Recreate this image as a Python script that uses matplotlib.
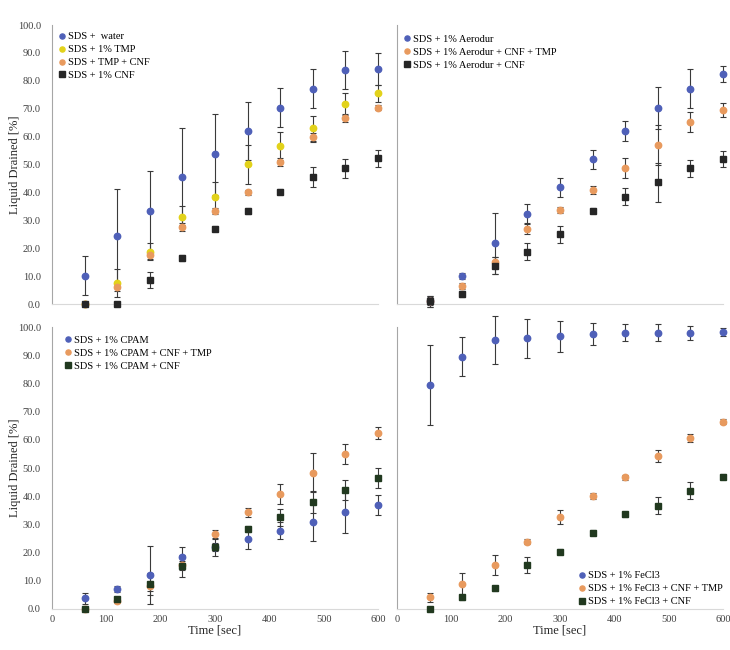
import matplotlib
matplotlib.use("Agg")
import matplotlib.pyplot as plt
import numpy as np
from matplotlib.ticker import FormatStrFormatter

plt.rcParams.update({"font.family": ["Liberation Serif", "DejaVu Serif"],
                     "font.size": 7.5})

t = [60, 120, 180, 240, 300, 360, 420, 480, 540, 600]

# ---- panel A: SDS + water / TMP / CNF
a_water = [10.2, 24.4, 33.4, 45.6, 53.6, 62.0, 70.4, 77.1, 83.9, 84.2]
a_water_err = [7.0, 16.7, 14.3, 17.4, 14.4, 10.5, 7.0, 7.0, 6.8, 5.7]
a_tmp = [0.0, 7.6, 18.7, 31.3, 38.5, 50.1, 56.6, 63.0, 71.6, 75.5]
a_tmp_err = [0.5, 5.0, 3.0, 4.0, 5.4, 7.0, 5.0, 4.5, 4.0, 3.0]
a_tmpcnf = [0.0, 6.2, 17.6, 27.7, 33.4, 40.0, 51.0, 59.7, 66.6, 70.4]
a_tmpcnf_err = [0.5, 1.5, 1.5, 1.5, 1.0, 1.0, 1.5, 1.5, 1.5, 1.0]
a_cnf = [0.0, 0.0, 8.6, 16.5, 27.0, 33.3, 40.3, 45.6, 48.6, 52.2]
a_cnf_err = [0.5, 0.5, 3.0, 1.0, 1.0, 1.0, 1.0, 3.5, 3.5, 3.0]

# ---- panel B: Aerodur
b_aer = [1.0, 10.0, 21.7, 32.3, 41.8, 51.8, 62.0, 70.3, 77.2, 82.4]
b_aer_err = [2.0, 1.0, 11.0, 3.5, 3.5, 3.5, 3.5, 7.5, 7.0, 3.0]
b_aer_cnf_tmp = [1.0, 6.5, 14.9, 27.0, 33.7, 40.9, 48.7, 57.0, 65.2, 69.7]
b_aer_cnf_tmp_err = [1.5, 1.0, 2.0, 2.0, 1.0, 1.5, 3.5, 7.0, 3.5, 2.5]
b_aer_cnf = [1.0, 3.5, 13.7, 18.8, 25.0, 33.5, 38.5, 43.6, 48.7, 52.0]
b_aer_cnf_err = [2.0, 1.0, 3.0, 3.0, 3.0, 1.0, 3.0, 7.0, 3.0, 3.0]

# ---- panel C: CPAM
c_cpam = [3.8, 7.0, 12.1, 18.6, 21.9, 24.9, 27.8, 31.0, 34.6, 36.9]
c_cpam_err = [2.0, 1.0, 10.3, 3.5, 3.0, 3.5, 3.0, 7.0, 7.5, 3.5]
c_cpam_cnf_tmp = [0.0, 3.0, 8.0, 15.5, 26.6, 34.3, 40.7, 48.4, 55.0, 62.5]
c_cpam_cnf_tmp_err = [0.5, 1.0, 1.5, 1.5, 1.5, 1.5, 3.5, 7.0, 3.5, 2.0]
c_cpam_cnf = [0.0, 3.4, 8.9, 15.3, 22.1, 28.4, 32.5, 37.9, 42.2, 46.4]
c_cpam_cnf_err = [0.5, 1.0, 4.0, 4.0, 1.5, 1.0, 3.0, 4.0, 3.5, 3.5]

# ---- panel D: FeCl3
d_fe = [79.5, 89.6, 95.5, 96.1, 96.9, 97.6, 98.1, 98.1, 98.1, 98.3]
d_fe_err = [14.2, 7.0, 8.5, 7.0, 5.5, 4.0, 3.0, 3.0, 2.5, 1.5]
d_fe_cnf_tmp = [4.1, 8.9, 15.6, 23.9, 32.8, 40.2, 46.7, 54.3, 60.6, 66.5]
d_fe_cnf_tmp_err = [1.5, 4.0, 3.5, 1.0, 2.5, 1.0, 1.0, 2.0, 1.5, 1.0]
d_fe_cnf = [0.0, 4.1, 7.3, 15.6, 20.4, 27.1, 33.6, 36.6, 41.9, 47.0]
d_fe_cnf_err = [0.5, 1.0, 1.0, 3.0, 1.0, 1.0, 1.0, 3.0, 3.0, 1.0]

BLUE, YELLOW, ORANGE = "#4F60B8", "#E2D21A", "#E89A5E"
BLACK, DKGREEN = "#262626", "#21391F"

panels = [
    ([(a_water, a_water_err, "SDS +  water", BLUE, "o"),
      (a_tmp, a_tmp_err, "SDS + 1% TMP", YELLOW, "o"),
      (a_tmpcnf, a_tmpcnf_err, "SDS + TMP + CNF", ORANGE, "o"),
      (a_cnf, a_cnf_err, "SDS + 1% CNF", BLACK, "s")],
     dict(loc="upper left", bbox_to_anchor=(0.02, 0.975))),
    ([(b_aer, b_aer_err, "SDS + 1% Aerodur", BLUE, "o"),
      (b_aer_cnf_tmp, b_aer_cnf_tmp_err, "SDS + 1% Aerodur + CNF + TMP", ORANGE, "o"),
      (b_aer_cnf, b_aer_cnf_err, "SDS + 1% Aerodur + CNF", BLACK, "s")],
     dict(loc="upper left", bbox_to_anchor=(0.02, 0.965))),
    ([(c_cpam, c_cpam_err, "SDS + 1% CPAM", BLUE, "o"),
      (c_cpam_cnf_tmp, c_cpam_cnf_tmp_err, "SDS + 1% CPAM + CNF + TMP", ORANGE, "o"),
      (c_cpam_cnf, c_cpam_cnf_err, "SDS + 1% CPAM + CNF", DKGREEN, "s")],
     dict(loc="upper left", bbox_to_anchor=(0.04, 0.97))),
    ([(d_fe, d_fe_err, "SDS + 1% FeCl3", BLUE, "o"),
      (d_fe_cnf_tmp, d_fe_cnf_tmp_err, "SDS + 1% FeCl3 + CNF + TMP", ORANGE, "o"),
      (d_fe_cnf, d_fe_cnf_err, "SDS + 1% FeCl3 + CNF", DKGREEN, "s")],
     dict(loc="lower right", bbox_to_anchor=(1.0, 0.01))),
]

fig = plt.figure(figsize=(7.3, 6.5), dpi=100)
rects = [(0.0712, 0.5323, 0.4466, 0.4292), (0.5438, 0.5323, 0.4466, 0.4292),
         (0.0712, 0.0631, 0.4466, 0.4334), (0.5438, 0.0631, 0.4466, 0.4334)]

for i, ((series, leg_kw), rect) in enumerate(zip(panels, rects)):
    ax = fig.add_axes(rect)
    handles = []
    for y, e, lab, c, m in series:
        cont = ax.errorbar(t, y, yerr=e, fmt=m, color=c, ms=4.6, ecolor="#3a3a3a",
                           elinewidth=0.8, capsize=2.2, capthick=0.8, label=lab,
                           clip_on=False, zorder=3)
        handles.append(cont[0])
    ax.set_xlim(0, 600); ax.set_ylim(0, 100)
    ax.set_yticks(np.arange(0, 101, 10))
    ax.yaxis.set_major_formatter(FormatStrFormatter("%.1f"))
    ax.set_xticks(np.arange(0, 601, 100))
    ax.tick_params(length=0, colors="#404040", labelsize=7.5, pad=8)
    for s in ("top", "right"):
        ax.spines[s].set_visible(False)
    ax.spines["left"].set_color("#a6a6a6")
    ax.spines["bottom"].set_color("#d9d9d9")
    ax.spines["left"].set_linewidth(0.8)
    ax.spines["bottom"].set_linewidth(0.8)
    if i < 2:
        ax.tick_params(labelbottom=False)
    else:
        ax.set_xlabel("Time [sec]", fontsize=9, color="#262626", labelpad=1)
        ax.tick_params(axis="x", pad=4)
    if i % 2 == 1:
        ax.tick_params(labelleft=False)
    else:
        ax.set_ylabel("Liquid Drained [%]", fontsize=9, color="#262626")
        ax.yaxis.set_label_coords(-0.095, 0.5)
    ax.legend(handles, [s[2] for s in series], frameon=False, fontsize=7.5,
              handlelength=0.6, handletextpad=0.3, labelspacing=0.35,
              borderaxespad=0.0, borderpad=0.0, markerscale=0.8, **leg_kw)

fig.savefig("out.png", dpi=100)
